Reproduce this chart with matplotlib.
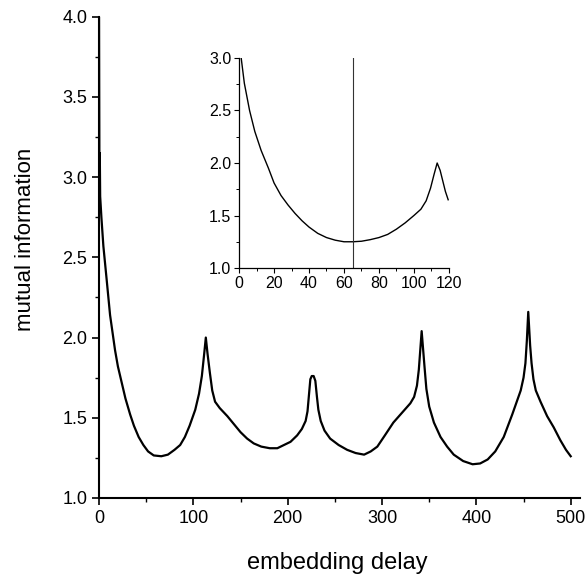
import numpy as np
import matplotlib.pyplot as plt
from matplotlib.ticker import MultipleLocator

plt.rcParams['font.family'] = ['Liberation Sans', 'DejaVu Sans']

# main curve: mutual information vs embedding delay
delay = [0, 0.4, 0.8, 1.2, 2.5, 4.6, 8.1, 11.7, 17, 20, 24, 28, 33, 37, 42, 47,
         52, 58, 66, 73, 80, 86, 91, 96, 102, 106, 109, 111.5, 113.2, 115,
         117.5, 120, 123, 128, 136, 143, 150, 157, 164, 172, 181, 189, 196,
         203, 210, 215, 219, 221, 222.5, 224, 225.5, 227.5, 229.3, 231, 232.5,
         235, 239, 245, 254, 263, 272, 281, 288, 295, 303, 312, 321, 330, 334,
         337, 339, 340.5, 342, 343.5, 345, 347, 350, 355, 362, 369, 376, 386,
         396, 404, 412, 420, 429, 438, 444, 447, 450, 452, 453.5, 455, 457,
         458.5, 460.5, 463, 468, 475, 482, 489, 495, 500]
mi = [4.0, 3.0, 3.15, 2.88, 2.75, 2.57, 2.36, 2.14, 1.92, 1.82, 1.72, 1.62,
      1.52, 1.45, 1.38, 1.33, 1.29, 1.265, 1.26, 1.27, 1.30, 1.33, 1.38, 1.45,
      1.55, 1.65, 1.76, 1.90, 2.0, 1.90, 1.78, 1.67, 1.60, 1.56, 1.51, 1.46,
      1.41, 1.37, 1.34, 1.32, 1.31, 1.31, 1.33, 1.35, 1.39, 1.43, 1.48, 1.54,
      1.64, 1.74, 1.76, 1.76, 1.73, 1.63, 1.55, 1.48, 1.42, 1.37, 1.33, 1.30,
      1.28, 1.27, 1.29, 1.32, 1.39, 1.47, 1.53, 1.59, 1.63, 1.70, 1.80, 1.92,
      2.04, 1.93, 1.82, 1.68, 1.57, 1.47, 1.38, 1.32, 1.27, 1.23, 1.21, 1.215,
      1.24, 1.29, 1.38, 1.52, 1.62, 1.67, 1.75, 1.84, 1.98, 2.16, 1.95, 1.84,
      1.74, 1.67, 1.60, 1.51, 1.44, 1.36, 1.30, 1.26]

# inset: zoom on the first minimum
delay_in = [1.2, 3, 6, 9, 12.6, 16.8, 20, 24, 28, 32, 36, 40, 45, 50, 55, 60,
            65, 70, 75, 80, 85, 90, 95, 100, 104, 107, 109.5, 111.5, 113.3,
            115, 116.5, 118, 119.6]
mi_in = [3.0, 2.76, 2.50, 2.30, 2.12, 1.95, 1.81, 1.69, 1.60, 1.52, 1.45, 1.39,
         1.33, 1.29, 1.265, 1.25, 1.25, 1.255, 1.27, 1.29, 1.32, 1.37, 1.43,
         1.50, 1.56, 1.64, 1.76, 1.89, 2.0, 1.93, 1.83, 1.73, 1.65]
first_min = 65

fig = plt.figure(figsize=(5.86, 5.77), dpi=100)
ax = fig.add_axes([0.169, 0.137, 0.821, 0.834])
ax.plot(delay, mi, color='black', linewidth=1.6)
ax.set_xlim(0, 510)
ax.set_ylim(1.0, 4.0)
ax.xaxis.set_major_locator(MultipleLocator(100))
ax.xaxis.set_minor_locator(MultipleLocator(50))
ax.yaxis.set_major_locator(MultipleLocator(0.5))
ax.yaxis.set_minor_locator(MultipleLocator(0.25))
ax.yaxis.set_major_formatter(plt.FormatStrFormatter('%.1f'))
for s in ['top', 'right']:
    ax.spines[s].set_visible(False)
for s in ['left', 'bottom']:
    ax.spines[s].set_linewidth(1.5)
ax.tick_params(which='major', length=5, width=1.2, labelsize=13, direction='out')
ax.tick_params(which='minor', length=3, width=1.0, direction='out')
ax.set_xlabel('embedding delay', fontsize=17, va='center')
ax.xaxis.set_label_coords(0.496, -0.136)
ax.set_ylabel('mutual information', fontsize=16, va='center')
ax.yaxis.set_label_coords(-0.152, 0.538)

ins = fig.add_axes([0.408, 0.5355, 0.358, 0.364])
ins.plot(delay_in, mi_in, color='black', linewidth=1.0)
ins.axvline(first_min, color='#333333', linewidth=0.8)
ins.set_xlim(0, 120)
ins.set_ylim(1.0, 3.0)
ins.xaxis.set_major_locator(MultipleLocator(20))
ins.xaxis.set_minor_locator(MultipleLocator(10))
ins.yaxis.set_major_locator(MultipleLocator(0.5))
ins.yaxis.set_minor_locator(MultipleLocator(0.25))
ins.yaxis.set_major_formatter(plt.FormatStrFormatter('%.1f'))
for s in ['top', 'right']:
    ins.spines[s].set_visible(False)
for s in ['left', 'bottom']:
    ins.spines[s].set_linewidth(0.9)
ins.tick_params(which='major', length=3.5, width=0.8, labelsize=11.5, pad=2)
ins.tick_params(which='minor', length=2, width=0.7)

plt.savefig('out.png', dpi=100)
